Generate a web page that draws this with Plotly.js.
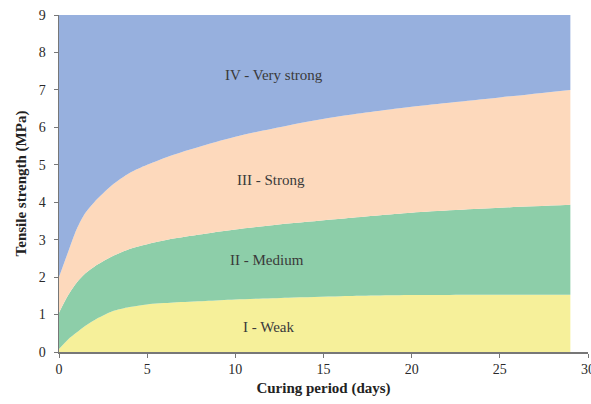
<!DOCTYPE html>
<html>
<head>
<meta charset="utf-8">
<script src="https://cdn.plot.ly/plotly-3.0.1.min.js"></script>
<style>html,body{margin:0;padding:0;background:#fff;}#chart{width:591px;height:404px;}</style>
</head>
<body>
<div id="chart"></div>
<script>
const days = [0, 0.5, 1, 1.5, 2, 3, 4, 5, 6.5, 8.3, 10, 13, 16, 20, 25, 29];
const weakTop = [0.08, 0.33, 0.52, 0.7, 0.85, 1.08, 1.2, 1.27, 1.32, 1.36, 1.4, 1.45, 1.49, 1.52, 1.53, 1.53];
const mediumTop = [1.05, 1.5, 1.85, 2.1, 2.28, 2.55, 2.75, 2.88, 3.03, 3.16, 3.27, 3.43, 3.56, 3.72, 3.85, 3.93];
const strongTop = [2.0, 2.65, 3.28, 3.72, 4.0, 4.45, 4.78, 5.0, 5.27, 5.53, 5.75, 6.05, 6.3, 6.55, 6.8, 7.0];
const veryStrongTop = [9, 9, 9, 9, 9, 9, 9, 9, 9, 9, 9, 9, 9, 9, 9, 9];
const zoneLabels = ["I - Weak", "II - Medium", "III - Strong", "IV - Very strong"];
const labelX = [11.9, 11.8, 12.0, 12.2];
const labelY = [0.67, 2.46, 4.6, 7.4];
const xTicks = [0, 5, 10, 15, 20, 25, 30];
const yTicks = [0, 1, 2, 3, 4, 5, 6, 7, 8, 9];
const colors = ["#f6f09a", "#8dcea9", "#fdd9bc", "#97b0de"];

const series = [weakTop, mediumTop, strongTop, veryStrongTop];
const traces = series.map((ys, i) => ({
  x: days, y: ys, type: "scatter", mode: "lines",
  line: {width: 0, shape: "spline", smoothing: 0.8},
  fill: i === 0 ? "tozeroy" : "tonexty",
  fillcolor: colors[i], hoverinfo: "skip", showlegend: false
}));

const serif = "Liberation Serif, Times New Roman, serif";
const annotations = zoneLabels.map((t, i) => ({
  x: labelX[i], y: labelY[i], xref: "x", yref: "y", text: t, showarrow: false,
  font: {family: serif, size: 15, color: "#3a3a3a"}
}));

const layout = {
  width: 591, height: 404,
  margin: {l: 59, r: 3, t: 15, b: 52},
  paper_bgcolor: "#ffffff", plot_bgcolor: "#ffffff",
  font: {family: serif, color: "#333"},
  xaxis: {
    range: [0, 30], tickvals: xTicks, ticklabeloverflow: "allow",
    showgrid: false, zeroline: false, showline: true, linecolor: "#777", linewidth: 1.5,
    ticks: "outside", ticklen: 4, tickcolor: "#777",
    tickfont: {size: 14, color: "#2a2a2a"},
    title: {text: "<b>Curing period (days)</b>", font: {size: 15, color: "#222"}, standoff: 6}
  },
  yaxis: {
    range: [0, 9], tickvals: yTicks,
    showgrid: false, zeroline: false, showline: true, linecolor: "#777", linewidth: 1.5,
    ticks: "outside", ticklen: 4, tickcolor: "#777", ticklabelstandoff: 5,
    tickfont: {size: 14, color: "#2a2a2a"},
    title: {text: "<b>Tensile strength (MPa)</b>", font: {size: 15, color: "#222"}, standoff: 8}
  },
  annotations: annotations
};

Plotly.newPlot("chart", traces, layout, {staticPlot: true, displayModeBar: false});
</script>
</body>
</html>
